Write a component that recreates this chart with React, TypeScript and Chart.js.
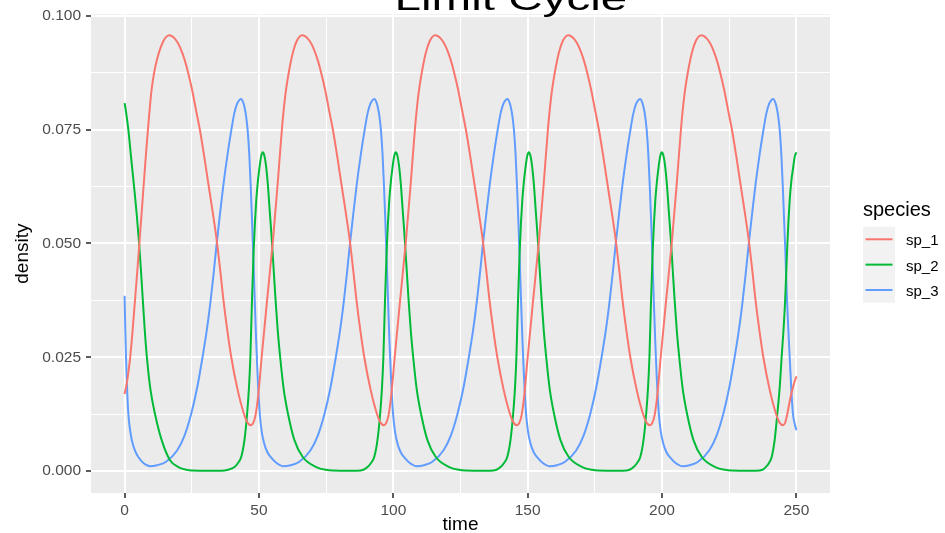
import React, { useEffect, useRef } from "react";
import { Chart, registerables } from "chart.js";

Chart.register(...registerables);

const FONT = "'Liberation Sans', Arial, Helvetica, sans-serif";

const chartTitle = "Limit Cycle";
const xAxisTitle = "time";
const yAxisTitle = "density";
const legendTitle = "species";
const seriesNames = ["sp_1", "sp_2", "sp_3"];
const seriesColors = ["#F8766D", "#00BA38", "#619CFF"];

const xMajorTicks = [0, 50, 100, 150, 200, 250];
const xMinorTicks = [25, 75, 125, 175, 225];
const yMajorTicks = [0, 0.025, 0.05, 0.075, 0.1];
const yMinorTicks = [0.0125, 0.0375, 0.0625, 0.0875];
const xRange = [-12.5, 262.5];
const yRange = [-0.0048, 0.1003];

// sp_1 (red)
const sp1Time = [
  0, 1, 2, 3, 4, 5, 6, 7, 8, 9, 10, 11, 12.2, 13.4, 14.5, 15.6, 16.6,
  17.6, 18.6, 19.6, 20.6, 21.6, 22.6, 23.6, 25.1, 26.6, 28.0, 29.6, 31.3, 32.8, 34.3, 35.6, 36.7, 38.2, 39.7, 42.0, 44.4, 45.8, 47.0,
  47.8, 48.7, 49.7, 51.0, 53.0, 55.2, 56.9, 58.6, 59.8, 61.0, 62.1, 63.1, 64.1, 65.1, 66.1,
  67.1, 68.1, 69.1, 70.1, 71.1, 72.1, 73.1, 74.6, 76.1, 77.5, 79.1, 80.8, 82.3, 83.8, 85.1, 86.2, 87.7, 89.2, 91.5, 93.9, 95.3, 96.5,
  97.3, 98.2, 99.2, 100.5, 102.5, 104.7, 106.4, 108.1, 109.3, 110.5, 111.6, 112.6, 113.6, 114.6, 115.6,
  116.6, 117.6, 118.6, 119.6, 120.6, 121.6, 122.6, 124.1, 125.6, 127.0, 128.6, 130.3, 131.8, 133.3, 134.6, 135.7, 137.2, 138.7, 141.0, 143.4, 144.8, 146.0,
  146.8, 147.7, 148.7, 150.0, 152.0, 154.2, 155.9, 157.6, 158.8, 160.0, 161.1, 162.1, 163.1, 164.1, 165.1,
  166.1, 167.1, 168.1, 169.1, 170.1, 171.1, 172.1, 173.6, 175.1, 176.5, 178.1, 179.8, 181.3, 182.8, 184.1, 185.2, 186.7, 188.2, 190.5, 192.9, 194.3, 195.5,
  196.3, 197.2, 198.2, 199.5, 201.5, 203.7, 205.4, 207.1, 208.3, 209.5, 210.6, 211.6, 212.6, 213.6, 214.6,
  215.6, 216.6, 217.6, 218.6, 219.6, 220.6, 221.6, 223.1, 224.6, 226.0, 227.6, 229.3, 230.8, 232.3, 233.6, 234.7, 236.2, 237.7, 240.0, 242.4, 243.8, 245.0,
  245.8, 246.6, 247.4, 248.2, 249.1, 250.0,
];
const sp1Density = [
  0.0169, 0.02, 0.0245, 0.031, 0.0385, 0.046, 0.054, 0.062, 0.07, 0.0772, 0.0835, 0.0875, 0.0907, 0.093, 0.0945, 0.0954, 0.0957,
  0.0955, 0.095, 0.0942, 0.0931, 0.0916, 0.0898, 0.0876, 0.0838, 0.0792, 0.075, 0.0692, 0.0626, 0.0568, 0.0506, 0.044, 0.038, 0.031, 0.025, 0.018, 0.0126, 0.0106, 0.0101,
  0.0105, 0.0122, 0.0165, 0.025, 0.0374, 0.0506, 0.0626, 0.0755, 0.0825, 0.0872, 0.0906, 0.0929, 0.0945, 0.0954, 0.0957,
  0.0955, 0.095, 0.0942, 0.0931, 0.0916, 0.0898, 0.0876, 0.0838, 0.0792, 0.075, 0.0692, 0.0626, 0.0568, 0.0506, 0.044, 0.038, 0.031, 0.025, 0.018, 0.0126, 0.0106, 0.0101,
  0.0105, 0.0122, 0.0165, 0.025, 0.0374, 0.0506, 0.0626, 0.0755, 0.0825, 0.0872, 0.0906, 0.0929, 0.0945, 0.0954, 0.0957,
  0.0955, 0.095, 0.0942, 0.0931, 0.0916, 0.0898, 0.0876, 0.0838, 0.0792, 0.075, 0.0692, 0.0626, 0.0568, 0.0506, 0.044, 0.038, 0.031, 0.025, 0.018, 0.0126, 0.0106, 0.0101,
  0.0105, 0.0122, 0.0165, 0.025, 0.0374, 0.0506, 0.0626, 0.0755, 0.0825, 0.0872, 0.0906, 0.0929, 0.0945, 0.0954, 0.0957,
  0.0955, 0.095, 0.0942, 0.0931, 0.0916, 0.0898, 0.0876, 0.0838, 0.0792, 0.075, 0.0692, 0.0626, 0.0568, 0.0506, 0.044, 0.038, 0.031, 0.025, 0.018, 0.0126, 0.0106, 0.0101,
  0.0105, 0.0122, 0.0165, 0.025, 0.0374, 0.0506, 0.0626, 0.0755, 0.0825, 0.0872, 0.0906, 0.0929, 0.0945, 0.0954, 0.0957,
  0.0955, 0.095, 0.0942, 0.0931, 0.0916, 0.0898, 0.0876, 0.0838, 0.0792, 0.075, 0.0692, 0.0626, 0.0568, 0.0506, 0.044, 0.038, 0.031, 0.025, 0.018, 0.0126, 0.0106, 0.0101,
  0.0106, 0.0125, 0.015, 0.0172, 0.0192, 0.0208,
];

// sp_2 (green)
const sp2Time = [
  0, 0.5, 1.4, 2.4, 3.5, 4.5, 5.4, 6.1, 6.8, 7.5, 8.3, 9.6, 11.3, 13.8, 16.9, 20.0, 23.0, 28.0, 36.0, 38.5,
  40.9, 42.2, 43.4, 44.6, 45.6, 46.3, 46.8, 47.4, 48.0, 48.5, 49.0, 49.6, 50.2, 50.8, 51.4,
  52.0, 52.6, 53.3, 54.0, 54.8, 55.5, 56.2, 57.0, 57.9, 59.2, 60.8, 63.2, 66.3, 71.3, 75.0, 80.4, 86.4, 88.9,
  90.4, 91.7, 92.9, 94.1, 95.1, 95.8, 96.3, 96.9, 97.5, 98.0, 98.5, 99.1, 99.7, 100.3, 100.9,
  101.5, 102.1, 102.8, 103.5, 104.3, 105.0, 105.7, 106.5, 107.4, 108.7, 110.3, 112.7, 115.8, 120.8, 124.5, 129.9, 135.9, 138.4,
  139.9, 141.2, 142.4, 143.6, 144.6, 145.3, 145.8, 146.4, 147.0, 147.5, 148.0, 148.6, 149.2, 149.8, 150.4,
  151.0, 151.6, 152.3, 153.0, 153.8, 154.5, 155.2, 156.0, 156.9, 158.2, 159.8, 162.2, 165.3, 170.3, 174.0, 179.4, 185.4, 187.9,
  189.4, 190.7, 191.9, 193.1, 194.1, 194.8, 195.3, 195.9, 196.5, 197.0, 197.5, 198.1, 198.7, 199.3, 199.9,
  200.5, 201.1, 201.8, 202.5, 203.3, 204.0, 204.7, 205.5, 206.4, 207.7, 209.3, 211.7, 214.8, 219.8, 223.5, 228.9, 234.9, 237.4,
  238.6, 239.8, 240.8, 241.9, 242.9, 243.8, 244.5, 245.2, 245.8, 246.5, 247.0, 247.5, 248.1, 248.8, 249.4, 250.0,
];
const sp2Density = [
  0.0808, 0.079, 0.075, 0.069, 0.0626, 0.0565, 0.05, 0.044, 0.0374, 0.031, 0.025, 0.018, 0.0126, 0.0068, 0.0024, 0.0009, 0.0003, 0.0001, 0.0001, 0.0003,
  0.0009, 0.0018, 0.0031, 0.0068, 0.0126, 0.0185, 0.025, 0.0374, 0.048, 0.0545, 0.0595, 0.0636, 0.0667, 0.0691, 0.07,
  0.0693, 0.0672, 0.063, 0.0572, 0.0506, 0.044, 0.0374, 0.0308, 0.025, 0.018, 0.0126, 0.0068, 0.0031, 0.0009, 0.0003, 0.0001, 0.0001, 0.0003,
  0.0009, 0.0018, 0.0031, 0.0068, 0.0126, 0.0185, 0.025, 0.0374, 0.048, 0.0545, 0.0595, 0.0636, 0.0667, 0.0691, 0.07,
  0.0693, 0.0672, 0.063, 0.0572, 0.0506, 0.044, 0.0374, 0.0308, 0.025, 0.018, 0.0126, 0.0068, 0.0031, 0.0009, 0.0003, 0.0001, 0.0001, 0.0003,
  0.0009, 0.0018, 0.0031, 0.0068, 0.0126, 0.0185, 0.025, 0.0374, 0.048, 0.0545, 0.0595, 0.0636, 0.0667, 0.0691, 0.07,
  0.0693, 0.0672, 0.063, 0.0572, 0.0506, 0.044, 0.0374, 0.0308, 0.025, 0.018, 0.0126, 0.0068, 0.0031, 0.0009, 0.0003, 0.0001, 0.0001, 0.0003,
  0.0009, 0.0018, 0.0031, 0.0068, 0.0126, 0.0185, 0.025, 0.0374, 0.048, 0.0545, 0.0595, 0.0636, 0.0667, 0.0691, 0.07,
  0.0693, 0.0672, 0.063, 0.0572, 0.0506, 0.044, 0.0374, 0.0308, 0.025, 0.018, 0.0126, 0.0068, 0.0031, 0.0009, 0.0003, 0.0001, 0.0001, 0.0003,
  0.0009, 0.0018, 0.0031, 0.0068, 0.0126, 0.0185, 0.025, 0.031, 0.0374, 0.048, 0.0545, 0.0595, 0.0636, 0.0667, 0.0691, 0.07,
];

// sp_3 (blue)
const sp3Time = [
  0, 0.25, 0.5, 0.9, 1.4, 2.0, 2.7, 3.8, 5.1, 7.0, 9.5, 12.0,
  15.3, 19.6, 22.3, 24.8, 27.0, 29.0, 30.6, 32.0, 33.1, 34.1, 35.5, 36.8, 38.3, 39.7, 40.8, 41.8, 42.6, 43.3,
  43.9, 44.5, 45.2, 45.8, 46.4, 46.9, 47.4, 47.9, 48.4, 48.9, 49.5, 50.3, 51.0, 51.9, 53.1, 54.5, 56.3, 58.9, 61.8,
  64.9, 69.2, 71.9, 74.4, 76.6, 78.6, 80.2, 81.6, 82.7, 83.7, 85.1, 86.4, 87.9, 89.3, 90.4, 91.4, 92.2, 92.9,
  93.5, 94.1, 94.8, 95.4, 96.0, 96.5, 97.0, 97.5, 98.0, 98.5, 99.1, 99.9, 100.6, 101.5, 102.7, 104.1, 105.9, 108.5, 111.4,
  114.4, 118.7, 121.4, 123.9, 126.1, 128.1, 129.7, 131.1, 132.2, 133.2, 134.6, 135.9, 137.4, 138.8, 139.9, 140.9, 141.7, 142.4,
  143.0, 143.6, 144.3, 144.9, 145.5, 146.0, 146.5, 147.0, 147.5, 148.0, 148.6, 149.4, 150.1, 151.0, 152.2, 153.6, 155.4, 158.0, 160.9,
  163.8, 168.1, 170.8, 173.3, 175.5, 177.5, 179.1, 180.5, 181.6, 182.6, 184.0, 185.3, 186.8, 188.2, 189.3, 190.3, 191.1, 191.8,
  192.4, 193.0, 193.7, 194.3, 194.9, 195.4, 195.9, 196.4, 196.9, 197.4, 198.0, 198.8, 199.5, 200.4, 201.6, 203.0, 204.8, 207.4, 210.3,
  213.3, 217.6, 220.3, 222.8, 225.0, 227.0, 228.6, 230.0, 231.1, 232.1, 233.5, 234.8, 236.3, 237.7, 238.8, 239.8, 240.6, 241.3,
  241.9, 242.5, 243.2, 243.8, 244.4, 244.9, 245.4, 245.9, 246.4, 247.0, 247.5, 248.1, 248.7, 249.4, 250.0,
];
const sp3Density = [
  0.0385, 0.0315, 0.0255, 0.0185, 0.0126, 0.0092, 0.0068, 0.0046, 0.0031, 0.0018, 0.0011, 0.0013,
  0.002, 0.0046, 0.0078, 0.0126, 0.0183, 0.025, 0.031, 0.0374, 0.0432, 0.049, 0.0565, 0.063, 0.0695, 0.0748, 0.0785, 0.0806, 0.0814, 0.0817,
  0.0813, 0.0802, 0.078, 0.0748, 0.0695, 0.063, 0.0555, 0.047, 0.038, 0.0295, 0.021, 0.0126, 0.0088, 0.0062, 0.0042, 0.003, 0.0019, 0.0011, 0.0013,
  0.002, 0.0046, 0.0078, 0.0126, 0.0183, 0.025, 0.031, 0.0374, 0.0432, 0.049, 0.0565, 0.063, 0.0695, 0.0748, 0.0785, 0.0806, 0.0814, 0.0817,
  0.0813, 0.0802, 0.078, 0.0748, 0.0695, 0.063, 0.0555, 0.047, 0.038, 0.0295, 0.021, 0.0126, 0.0088, 0.0062, 0.0042, 0.003, 0.0019, 0.0011, 0.0013,
  0.002, 0.0046, 0.0078, 0.0126, 0.0183, 0.025, 0.031, 0.0374, 0.0432, 0.049, 0.0565, 0.063, 0.0695, 0.0748, 0.0785, 0.0806, 0.0814, 0.0817,
  0.0813, 0.0802, 0.078, 0.0748, 0.0695, 0.063, 0.0555, 0.047, 0.038, 0.0295, 0.021, 0.0126, 0.0088, 0.0062, 0.0042, 0.003, 0.0019, 0.0011, 0.0013,
  0.002, 0.0046, 0.0078, 0.0126, 0.0183, 0.025, 0.031, 0.0374, 0.0432, 0.049, 0.0565, 0.063, 0.0695, 0.0748, 0.0785, 0.0806, 0.0814, 0.0817,
  0.0813, 0.0802, 0.078, 0.0748, 0.0695, 0.063, 0.0555, 0.047, 0.038, 0.0295, 0.021, 0.0126, 0.0088, 0.0062, 0.0042, 0.003, 0.0019, 0.0011, 0.0013,
  0.002, 0.0046, 0.0078, 0.0126, 0.0183, 0.025, 0.031, 0.0374, 0.0432, 0.049, 0.0565, 0.063, 0.0695, 0.0748, 0.0785, 0.0806, 0.0814, 0.0817,
  0.0813, 0.0802, 0.078, 0.0748, 0.0695, 0.063, 0.0555, 0.048, 0.039, 0.031, 0.025, 0.018, 0.0126, 0.0103, 0.009,
];

const seriesTimes = [sp1Time, sp2Time, sp3Time];
const seriesValues = [sp1Density, sp2Density, sp3Density];

const isIn = (v: number, arr: number[]) => arr.some((m) => Math.abs(m - v) < 1e-9);

const decorPlugin = {
  id: "ggDecor",
  beforeDraw(chart: any) {
    const { ctx, chartArea: a } = chart;
    ctx.save();
    ctx.fillStyle = "#FFFFFF";
    ctx.fillRect(0, 0, chart.width, chart.height);
    ctx.fillStyle = "#EBEBEB";
    ctx.fillRect(a.left, a.top, a.right - a.left, a.bottom - a.top);
    ctx.restore();
  },
  afterDraw(chart: any) {
    const { ctx } = chart;
    ctx.save();
    const tSize = 34;
    const stretch = 1.4;
    ctx.fillStyle = "#000000";
    ctx.font = `${tSize}px ${FONT}`;
    ctx.textBaseline = "alphabetic";
    ctx.textAlign = "left";
    ctx.translate(398 - 0.073 * tSize * stretch, 9.5);
    ctx.scale(stretch, 1);
    ctx.fillText(chartTitle, 0, 0);
    ctx.restore();

    ctx.save();
    const lx = 863;
    const ly = 226.6;
    const kw = 32;
    const kh = 25.35;
    ctx.fillStyle = "#000000";
    ctx.font = `20px ${FONT}`;
    ctx.textBaseline = "alphabetic";
    ctx.textAlign = "left";
    ctx.fillText(legendTitle, lx, 216);
    const ds = chart.data.datasets;
    ctx.fillStyle = "#F2F2F2";
    ctx.fillRect(lx, ly, kw, kh * ds.length);
    ds.forEach((d: any, i: number) => {
      const cy = ly + kh * i + kh / 2;
      ctx.strokeStyle = d.borderColor;
      ctx.lineWidth = 2;
      ctx.beginPath();
      ctx.moveTo(lx + 2.5, cy);
      ctx.lineTo(lx + kw - 2.5, cy);
      ctx.stroke();
      ctx.fillStyle = "#000000";
      ctx.font = `15px ${FONT}`;
      ctx.textBaseline = "middle";
      ctx.fillText(d.label, 906, cy + 2);
    });
    ctx.restore();
  },
};

export default function App() {
  const canvasRef = useRef<HTMLCanvasElement | null>(null);

  useEffect(() => {
    const canvas = canvasRef.current;
    if (!canvas) return;

    const datasets = seriesNames.map((name, s) => {
      const ts = seriesTimes[s];
      const vs = seriesValues[s];
      const n = Math.min(ts.length, vs.length);
      const data = [] as { x: number; y: number }[];
      for (let i = 0; i < n; i++) data.push({ x: ts[i], y: vs[i] });
      return {
        label: name,
        data,
        borderColor: seriesColors[s],
        backgroundColor: seriesColors[s],
        borderWidth: 2,
        pointRadius: 0,
        pointHoverRadius: 0,
        fill: false,
        cubicInterpolationMode: "monotone" as const,
        tension: 0,
      };
    });

    const xAll = [...xMajorTicks, ...xMinorTicks].sort((a, b) => a - b);
    const yAll = [...yMajorTicks, ...yMinorTicks].sort((a, b) => a - b);

    const chart = new Chart(canvas, {
      type: "line",
      data: { datasets },
      plugins: [decorPlugin],
      options: {
        animation: false,
        responsive: false,
        events: [],
        layout: { padding: { top: 12.7, right: 115, left: 0, bottom: 0 } },
        plugins: {
          legend: { display: false },
          title: { display: false },
          tooltip: { enabled: false },
        },
        scales: {
          x: {
            type: "linear",
            min: xRange[0],
            max: xRange[1],
            afterBuildTicks: (scale: any) => {
              scale.ticks = xAll.map((v) => ({ value: v }));
            },
            afterFit: (scale: any) => {
              scale.height = 40;
            },
            border: { display: false },
            grid: {
              color: "#FFFFFF",
              lineWidth: (c: any) => (c.tick && isIn(c.tick.value, xMajorTicks) ? 2 : 1),
              drawTicks: true,
              tickLength: 5,
              tickWidth: 1.6,
              tickColor: (c: any) =>
                c.tick && isIn(c.tick.value, xMajorTicks) ? "#333333" : "rgba(0,0,0,0)",
            },
            ticks: {
              autoSkip: false,
              maxRotation: 0,
              minRotation: 0,
              padding: 3,
              color: "#4D4D4D",
              font: { family: FONT, size: 15.5 },
              callback: (value: any) => (isIn(Number(value), xMajorTicks) ? String(value) : ""),
            },
            title: {
              display: true,
              text: xAxisTitle,
              color: "#000000",
              font: { family: FONT, size: 19, lineHeight: 1 },
              padding: { top: 0, bottom: -1.5 },
            },
          },
          y: {
            type: "linear",
            min: yRange[0],
            max: yRange[1],
            afterBuildTicks: (scale: any) => {
              scale.ticks = yAll.map((v) => ({ value: v }));
            },
            afterFit: (scale: any) => {
              scale.width = 91;
            },
            border: { display: false },
            grid: {
              color: "#FFFFFF",
              lineWidth: (c: any) => (c.tick && isIn(c.tick.value, yMajorTicks) ? 2 : 1),
              drawTicks: true,
              tickLength: 5,
              tickWidth: 1.6,
              tickColor: (c: any) =>
                c.tick && isIn(c.tick.value, yMajorTicks) ? "#333333" : "rgba(0,0,0,0)",
            },
            ticks: {
              autoSkip: false,
              padding: 5,
              color: "#4D4D4D",
              font: { family: FONT, size: 15.5 },
              callback: (value: any) =>
                isIn(Number(value), yMajorTicks) ? Number(value).toFixed(3) : "",
            },
            title: {
              display: true,
              text: yAxisTitle,
              color: "#000000",
              font: { family: FONT, size: 19, lineHeight: 1 },
              padding: { top: 13, bottom: 0 },
            },
          },
        },
      } as any,
    });

    return () => {
      chart.destroy();
    };
  }, []);

  return (
    <div style={{ position: "absolute", left: 0, top: 0, width: 945, height: 533, background: "#FFFFFF" }}>
      <canvas ref={canvasRef} width={945} height={533} style={{ display: "block", width: 945, height: 533 }} />
    </div>
  );
}
